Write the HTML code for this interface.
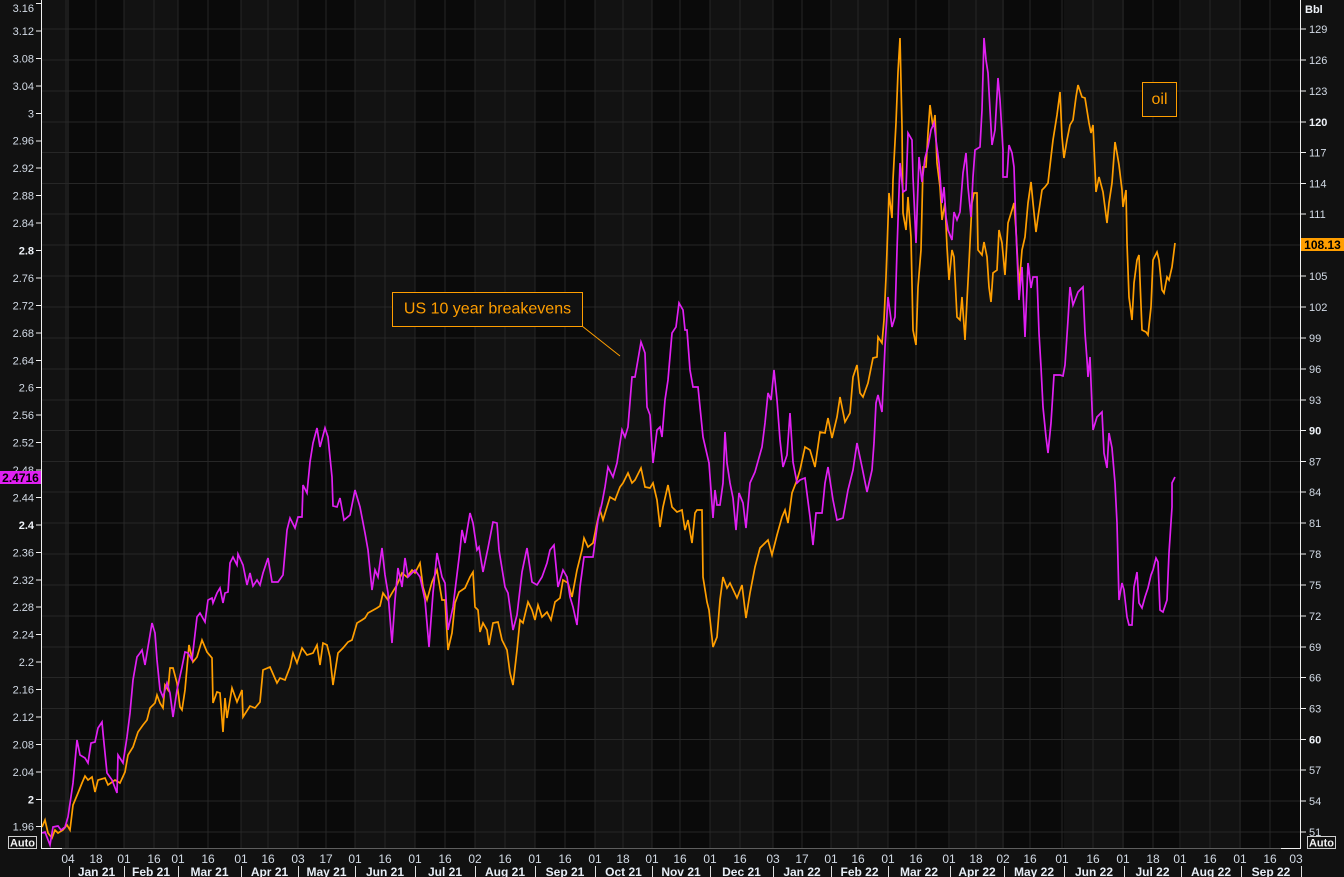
<!DOCTYPE html>
<html><head><meta charset="utf-8"><style>
html,body{margin:0;padding:0;background:#111;}
svg{display:block;font-family:"Liberation Sans",sans-serif;}
.la{font-size:11px;fill:#d3dbe6;text-anchor:end;}
.ra{font-size:11px;fill:#d3dbe6;}
.b{font-weight:bold;fill:#eef2f8;}
.dl{font-size:12px;fill:#d3dbe6;text-anchor:middle;}
.ml{font-size:12px;font-weight:bold;fill:#e8eef6;text-anchor:middle;}
</style></head><body>
<svg width="1344" height="877" viewBox="0 0 1344 877" xmlns="http://www.w3.org/2000/svg">
<rect x="0" y="0" width="1344" height="877" fill="#111"/>
<defs><clipPath id="pc"><rect x="42" y="0" width="1258" height="848"/></clipPath></defs>
<!-- bands -->
<g fill="#0a0a0a">
<rect x="69" y="0" width="55" height="848"/>
<rect x="178" y="0" width="63" height="848"/>
<rect x="298" y="0" width="57" height="848"/>
<rect x="415" y="0" width="60" height="848"/>
<rect x="535" y="0" width="60" height="848"/>
<rect x="652" y="0" width="58" height="848"/>
<rect x="773" y="0" width="58" height="848"/>
<rect x="888" y="0" width="62" height="848"/>
<rect x="1004" y="0" width="60" height="848"/>
<rect x="1124" y="0" width="57" height="848"/>
<rect x="1241" y="0" width="59" height="848"/>
</g>
<g fill="#121212">
<rect x="42" y="0" width="27" height="848"/>
<rect x="124" y="0" width="54" height="848"/>
<rect x="241" y="0" width="57" height="848"/>
<rect x="355" y="0" width="60" height="848"/>
<rect x="475" y="0" width="60" height="848"/>
<rect x="595" y="0" width="57" height="848"/>
<rect x="710" y="0" width="63" height="848"/>
<rect x="831" y="0" width="57" height="848"/>
<rect x="950" y="0" width="54" height="848"/>
<rect x="1064" y="0" width="60" height="848"/>
<rect x="1181" y="0" width="60" height="848"/>
</g>
<!-- grid -->
<g stroke="#272727" stroke-width="1" shape-rendering="crispEdges">
<path d="M66 0V848M68 0V848M96 0V848M124 0V848M154 0V848M178 0V848M208 0V848M241 0V848M268 0V848M298 0V848M326 0V848M355 0V848M385 0V848M415 0V848M445 0V848M475 0V848M505 0V848M535 0V848M565 0V848M595 0V848M623 0V848M652 0V848M680 0V848M710 0V848M740 0V848M773 0V848M802 0V848M831 0V848M858 0V848M888 0V848M916 0V848M949 0V848M976 0V848M1003 0V848M1030 0V848M1062 0V848M1093 0V848M1123 0V848M1153 0V848M1180 0V848M1210 0V848M1240 0V848M1270 0V848"/>
<path d="M42 29H1300M42 60H1300M42 91H1300M42 122H1300M42 152.5H1300M42 183.5H1300M42 214H1300M42 245H1300M42 276H1300M42 307H1300M42 338H1300M42 369H1300M42 400H1300M42 430.5H1300M42 461.5H1300M42 492H1300M42 523H1300M42 554H1300M42 585H1300M42 616H1300M42 647H1300M42 677.5H1300M42 708.5H1300M42 739.5H1300M42 770H1300M42 801H1300M42 832H1300"/>
</g>
<!-- series -->
<g clip-path="url(#pc)" fill="none" stroke-width="1.7" stroke-linejoin="miter">
<polyline stroke="#ff9e00" points="42,827 45,820 48,833 52,838 55,830 58,833 63,830 67,825 70,830 73,805 78,793 82,783 85,776 88,780 92,777 95,792 98,780 105,778 108,785 115,780 120,783 125,772 128,755 133,747 138,732 143,725 147,720 150,708 155,703 157,695 160,703 163,708 165,685 168,690 170,668 173,668 177,683 180,707 182,710 185,690 189,645 193,662 197,657 202,640 207,652 212,658 213,703 217,692 220,693 223,732 225,698 227,718 232,688 237,702 242,690 243,717 250,706 255,708 260,702 263,670 270,667 277,683 280,678 285,680 290,667 293,653 297,663 302,648 307,655 313,653 317,645 320,665 323,643 327,645 330,657 333,685 338,653 343,648 348,642 352,640 357,623 362,620 365,618 368,613 377,608 380,606 383,593 388,600 392,593 397,585 402,573 407,577 412,570 415,573 420,563 423,587 427,600 432,582 437,570 442,600 445,600 448,650 452,633 455,603 459,592 465,588 470,577 473,572 475,607 478,610 480,632 483,623 487,630 489,645 493,623 498,622 502,640 507,650 510,673 513,685 517,650 520,620 523,623 528,602 532,610 535,620 538,605 542,617 547,612 551,620 555,602 560,598 563,580 568,583 572,597 577,570 582,550 584,538 588,547 593,543 597,523 600,510 603,520 610,497 615,500 620,487 623,483 628,473 632,483 635,480 641,468 645,487 650,488 653,483 657,500 660,527 663,507 668,485 672,507 677,512 682,510 685,530 688,520 692,543 695,513 697,510 702,510 703,577 707,602 709,610 713,647 717,637 720,600 723,577 727,588 730,583 737,598 742,585 746,618 750,593 755,567 760,548 768,540 772,555 777,535 782,517 785,510 788,523 792,493 797,480 800,470 805,447 810,450 815,467 820,432 825,433 828,418 832,438 837,417 840,397 845,422 850,413 853,377 857,365 860,393 863,397 868,383 873,358 877,357 878,337 882,343 884,320 886,277 887,250 889,193 892,218 893,180 896,123 898,72 900,38 902,127 903,213 906,230 908,197 911,237 913,330 916,345 918,287 921,250 923,167 926,167 928,133 930,105 933,127 935,115 937,163 940,187 942,220 945,203 947,247 949,280 952,250 954,257 957,317 960,320 962,297 965,340 967,300 969,263 972,203 974,193 977,193 978,250 982,255 984,242 987,257 989,287 991,302 993,273 997,270 999,230 1002,243 1005,275 1008,223 1012,210 1014,203 1016,230 1019,287 1022,250 1025,237 1028,203 1031,182 1033,203 1036,232 1038,217 1042,190 1045,187 1048,183 1051,157 1053,140 1057,115 1060,92 1062,137 1064,158 1067,140 1070,125 1073,120 1076,97 1078,85 1082,97 1085,98 1089,123 1091,133 1093,125 1094,147 1096,192 1099,177 1103,192 1107,223 1109,203 1112,183 1115,142 1117,153 1119,165 1122,190 1123,207 1126,190 1127,243 1129,297 1132,320 1134,283 1137,260 1139,255 1142,330 1146,332 1148,335 1151,307 1153,260 1157,252 1159,260 1162,290 1164,293 1167,277 1169,280 1172,267 1175,243"/>
<polyline stroke="#e020f2" points="42,833 45,832 50,845 53,827 58,826 61,830 65,827 68,817 73,783 77,740 80,755 85,758 88,763 91,743 95,742 98,728 102,722 103,733 107,773 112,780 117,793 118,755 123,763 127,737 130,713 133,680 137,657 140,653 142,650 145,665 147,653 152,623 155,633 157,660 160,690 163,697 167,683 170,693 173,717 177,690 182,667 185,652 188,653 192,660 197,617 200,613 205,622 208,600 212,598 213,603 217,593 220,588 223,603 225,593 228,592 230,563 233,557 237,565 238,554 243,565 247,585 250,573 253,586 257,580 260,585 263,573 268,558 272,582 278,582 283,575 287,530 290,518 295,528 298,517 302,517 303,485 307,493 310,462 313,443 317,428 320,447 325,428 328,437 332,477 333,506 337,507 340,498 344,520 350,515 355,490 360,507 365,533 368,550 372,590 375,570 378,577 382,548 385,575 388,593 392,643 395,600 398,568 402,587 405,558 408,577 415,570 420,577 425,600 429,647 433,593 437,553 442,577 445,583 448,630 453,607 460,550 462,530 465,543 470,513 473,523 477,550 479,547 483,572 488,548 493,522 497,523 499,550 505,587 508,593 513,630 517,615 522,572 527,548 532,582 537,585 542,577 547,563 550,550 554,545 558,587 563,570 567,577 570,597 573,607 577,625 580,587 584,557 593,557 598,520 602,503 605,487 608,467 613,477 617,463 622,430 625,437 628,427 632,377 635,377 641,342 645,353 647,407 650,415 653,463 657,430 660,427 662,437 665,400 668,380 672,333 676,327 679,303 683,310 685,330 687,330 690,370 693,387 698,387 703,437 709,463 713,518 715,490 717,505 720,505 723,483 725,432 727,463 730,483 733,498 736,530 739,493 743,503 746,528 750,483 755,472 762,447 765,423 768,393 771,400 774,370 777,400 780,440 783,467 787,455 790,413 793,462 797,483 800,480 805,478 810,517 813,545 816,513 822,513 825,483 828,467 833,500 837,520 843,518 848,490 853,470 857,443 862,467 867,492 872,470 874,443 876,403 878,395 882,412 885,347 888,297 892,327 895,317 897,250 900,163 903,192 906,190 908,133 912,140 913,177 916,243 919,157 922,182 925,158 928,147 931,130 934,123 936,140 939,163 942,203 944,187 946,217 948,230 952,240 954,212 957,220 960,212 963,173 966,153 968,187 971,217 973,177 975,150 980,147 982,110 984,38 986,60 988,73 990,110 992,145 995,130 998,78 1000,100 1003,150 1003,177 1007,177 1009,145 1012,153 1014,167 1016,230 1019,300 1022,267 1025,337 1028,263 1031,288 1033,277 1037,277 1039,333 1041,367 1043,407 1046,437 1048,453 1051,423 1054,375 1060,375 1063,376 1065,365 1068,320 1070,287 1073,305 1078,292 1083,287 1085,333 1087,360 1088,377 1090,357 1092,407 1093,430 1097,417 1102,412 1104,453 1107,468 1109,433 1112,448 1115,483 1117,523 1119,600 1122,583 1124,590 1127,617 1129,625 1132,625 1134,587 1137,572 1139,603 1142,608 1145,597 1148,588 1151,575 1153,570 1156,558 1158,562 1160,610 1163,612 1167,600 1169,553 1172,507 1172,483 1175,477"/>
</g>
<!-- annotations -->
<rect x="392.5" y="292.5" width="190" height="34" fill="#111" stroke="#ff9e00" stroke-width="1"/>
<text x="487.5" y="313.5" font-size="16" fill="#ff9e00" text-anchor="middle">US 10 year breakevens</text>
<line x1="582" y1="326" x2="620" y2="356" stroke="#ff9e00" stroke-width="1"/>
<rect x="1142.5" y="82.5" width="34" height="34" fill="#111" stroke="#ff9e00" stroke-width="1"/>
<text x="1159.5" y="104" font-size="16" fill="#ff9e00" text-anchor="middle">oil</text>
<!-- axes -->
<g shape-rendering="crispEdges">
<line x1="42" y1="848.5" x2="1300" y2="848.5" stroke="#5e5e5e" stroke-width="1"/>
<line x1="42" y1="848.5" x2="62" y2="848.5" stroke="#f0f0f0" stroke-width="1"/>
<line x1="1281" y1="848.5" x2="1300" y2="848.5" stroke="#f0f0f0" stroke-width="1"/>
<line x1="41.5" y1="0" x2="41.5" y2="849" stroke="#f0f0f0" stroke-width="1"/>
<line x1="1300.5" y1="0" x2="1300.5" y2="849" stroke="#f0f0f0" stroke-width="1"/>
<path stroke="#f0f0f0" stroke-width="1" d="M36 3.5H41M36 31H41M36 58.5H41M36 86H41M36 113.5H41M36 141H41M36 168H41M36 195.5H41M36 223H41M36 250.5H41M36 278H41M36 305.5H41M36 333H41M36 360.5H41M36 387.5H41M36 415H41M36 442.5H41M36 470H41M36 497.5H41M36 525H41M36 552.5H41M36 580H41M36 607H41M36 634.5H41M36 662H41M36 689.5H41M36 717H41M36 744.5H41M36 772H41M36 799.5H41M36 826.5H41"/>
<path stroke="#f0f0f0" stroke-width="1" d="M1301 29H1306M1301 60H1306M1301 91H1306M1301 122H1306M1301 152.5H1306M1301 183.5H1306M1301 214H1306M1301 276H1306M1301 307H1306M1301 338H1306M1301 369H1306M1301 400H1306M1301 430.5H1306M1301 461.5H1306M1301 492H1306M1301 523H1306M1301 554H1306M1301 585H1306M1301 616H1306M1301 647H1306M1301 677.5H1306M1301 708.5H1306M1301 739.5H1306M1301 770H1306M1301 801H1306M1301 832H1306"/>
<path stroke="#e0e0e0" stroke-width="1" d="M69.5 866V877M124.5 866V877M178.5 866V877M241.5 866V877M298.5 866V877M355.5 866V877M415.5 866V877M475.5 866V877M535.5 866V877M595.5 866V877M652.5 866V877M710.5 866V877M773.5 866V877M831.5 866V877M888.5 866V877M950.5 866V877M1004.5 866V877M1064.5 866V877M1124.5 866V877M1181.5 866V877M1241.5 866V877M1301.5 866V877"/>
</g>
<!-- left labels -->
<g class="la">
<text x="34" y="12">3.16</text><text x="34" y="35">3.12</text><text x="34" y="62.4">3.08</text><text x="34" y="89.9">3.04</text><text x="34" y="117.3">3</text><text x="34" y="144.7">2.96</text><text x="34" y="172.2">2.92</text><text x="34" y="199.6">2.88</text><text x="34" y="227.1">2.84</text><text x="34" y="254.5" class="b">2.8</text><text x="34" y="281.9">2.76</text><text x="34" y="309.4">2.72</text><text x="34" y="336.8">2.68</text><text x="34" y="364.3">2.64</text><text x="34" y="391.7">2.6</text><text x="34" y="419.1">2.56</text><text x="34" y="446.6">2.52</text><text x="34" y="474">2.48</text><text x="34" y="501.5">2.44</text><text x="34" y="528.9" class="b">2.4</text><text x="34" y="556.3">2.36</text><text x="34" y="583.8">2.32</text><text x="34" y="611.2">2.28</text><text x="34" y="638.7">2.24</text><text x="34" y="666.1">2.2</text><text x="34" y="693.5">2.16</text><text x="34" y="721">2.12</text><text x="34" y="748.4">2.08</text><text x="34" y="775.9">2.04</text><text x="34" y="803.3" class="b">2</text><text x="34" y="830.7">1.96</text>
</g>
<!-- right labels -->
<g class="ra">
<text x="1305" y="13" class="b">Bbl</text>
<text x="1309" y="33">129</text><text x="1309" y="64">126</text><text x="1309" y="95">123</text><text x="1309" y="126" class="b">120</text><text x="1309" y="156.5">117</text><text x="1309" y="187.5">114</text><text x="1309" y="218">111</text><text x="1309" y="280">105</text><text x="1309" y="311">102</text><text x="1309" y="342">99</text><text x="1309" y="373">96</text><text x="1309" y="404">93</text><text x="1309" y="434.5" class="b">90</text><text x="1309" y="465.5">87</text><text x="1309" y="496">84</text><text x="1309" y="527">81</text><text x="1309" y="558">78</text><text x="1309" y="589">75</text><text x="1309" y="620">72</text><text x="1309" y="651">69</text><text x="1309" y="681.5">66</text><text x="1309" y="712.5">63</text><text x="1309" y="743.5" class="b">60</text><text x="1309" y="774">57</text><text x="1309" y="805">54</text><text x="1309" y="836">51</text>
</g>
<!-- value boxes -->
<rect x="0" y="471" width="41" height="13" fill="#e020f2"/>
<text x="20.5" y="482" font-size="12" font-weight="bold" fill="#000" text-anchor="middle">2.4716</text>
<rect x="1301" y="238" width="43" height="13" fill="#ff9e00"/>
<text x="1322.5" y="249" font-size="12" font-weight="bold" fill="#000" text-anchor="middle">108.13</text>
<!-- Auto boxes -->
<rect x="8.5" y="836.5" width="28" height="12" fill="#111" stroke="#cfcfcf" stroke-width="1"/>
<text x="22.5" y="846.5" font-size="11" font-weight="bold" fill="#f2f2f2" text-anchor="middle">Auto</text>
<rect x="1307.5" y="836.5" width="28" height="12" fill="#111" stroke="#cfcfcf" stroke-width="1"/>
<text x="1321.5" y="846.5" font-size="11" font-weight="bold" fill="#f2f2f2" text-anchor="middle">Auto</text>
<!-- day labels -->
<g class="dl">
<text x="68" y="863">04</text><text x="96" y="863">18</text><text x="124" y="863">01</text><text x="154" y="863">16</text><text x="178" y="863">01</text><text x="208" y="863">16</text><text x="241" y="863">01</text><text x="268" y="863">16</text><text x="298" y="863">03</text><text x="326" y="863">17</text><text x="355" y="863">01</text><text x="385" y="863">16</text><text x="415" y="863">01</text><text x="445" y="863">16</text><text x="475" y="863">02</text><text x="505" y="863">16</text><text x="535" y="863">01</text><text x="565" y="863">16</text><text x="595" y="863">01</text><text x="623" y="863">18</text><text x="652" y="863">01</text><text x="680" y="863">16</text><text x="710" y="863">01</text><text x="740" y="863">16</text><text x="773" y="863">03</text><text x="802" y="863">17</text><text x="831" y="863">01</text><text x="858" y="863">16</text><text x="888" y="863">01</text><text x="916" y="863">16</text><text x="949" y="863">01</text><text x="976" y="863">18</text><text x="1003" y="863">02</text><text x="1030" y="863">16</text><text x="1062" y="863">01</text><text x="1093" y="863">16</text><text x="1123" y="863">01</text><text x="1153" y="863">18</text><text x="1180" y="863">01</text><text x="1210" y="863">16</text><text x="1240" y="863">01</text><text x="1270" y="863">16</text><text x="1296" y="863">03</text>
</g>
<!-- month labels -->
<g class="ml">
<text x="96.5" y="876">Jan 21</text><text x="151" y="876">Feb 21</text><text x="209.5" y="876">Mar 21</text><text x="269.5" y="876">Apr 21</text><text x="326.5" y="876">May 21</text><text x="385" y="876">Jun 21</text><text x="445" y="876">Jul 21</text><text x="505" y="876">Aug 21</text><text x="565" y="876">Sep 21</text><text x="623.5" y="876">Oct 21</text><text x="681" y="876">Nov 21</text><text x="741.5" y="876">Dec 21</text><text x="802" y="876">Jan 22</text><text x="859.5" y="876">Feb 22</text><text x="919" y="876">Mar 22</text><text x="977" y="876">Apr 22</text><text x="1034" y="876">May 22</text><text x="1094" y="876">Jun 22</text><text x="1152.5" y="876">Jul 22</text><text x="1211" y="876">Aug 22</text><text x="1271" y="876">Sep 22</text>
</g>
</svg>
</body></html>
